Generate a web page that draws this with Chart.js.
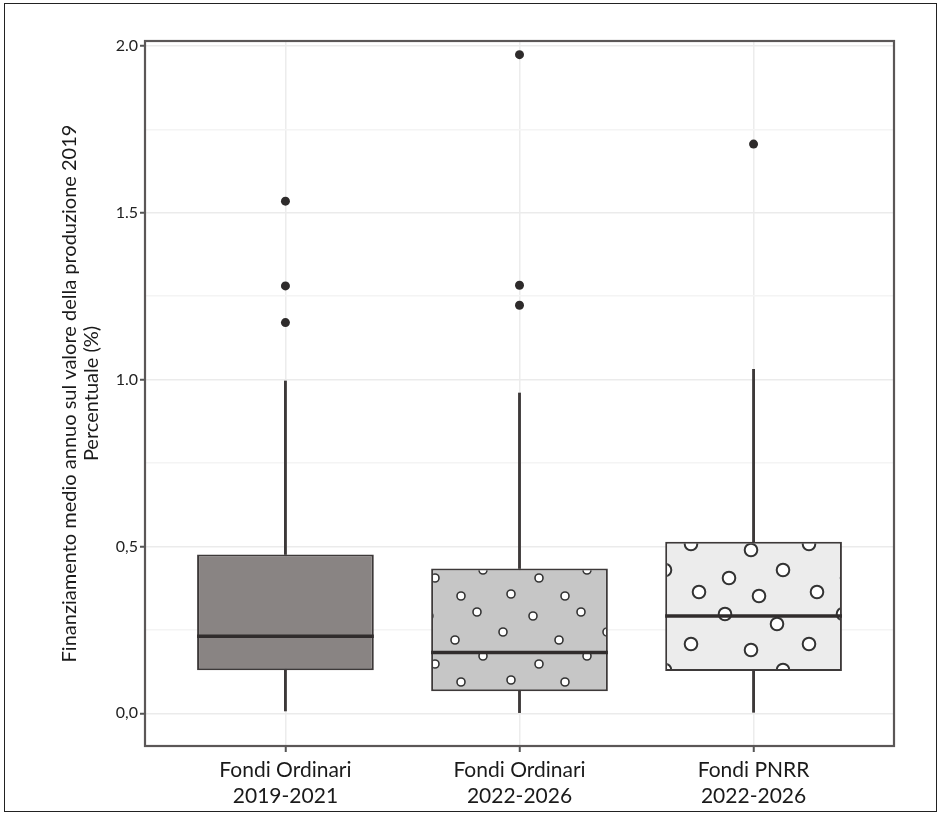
<!DOCTYPE html>
<html>
<head>
<meta charset="utf-8">
<script src="https://cdn.jsdelivr.net/npm/chart.js@4"></script>
<style>
  body { margin: 0; background: #fff; }
  #frame { position: absolute; left: 4px; top: 3px; width: 931px; height: 807px; border: 1px solid #222; }
  canvas { display: block; }
</style>
</head>
<body>
<div id="frame"><canvas id="chart" width="931" height="807"></canvas></div>
<script>
const categories = [['Fondi Ordinari', '2019-2021'], ['Fondi Ordinari', '2022-2026'], ['Fondi PNRR', '2022-2026']]
const whiskerLow = [0.007, 0.002, 0.003]
const q1 = [0.129, 0.066, 0.127]
const medians = [0.231, 0.182, 0.292]
const q3 = [0.476, 0.434, 0.514]
const whiskerHigh = [0.996, 0.960, 1.031]
const outliers = [[1.535, 1.281, 1.171], [1.974, 1.283, 1.223], [1.706]]
const yTickLabels = { 0: '0,0', 0.5: '0,5', 1: '1.0', 1.5: '1.5', 2: '2.0' }
const yGridValues = [0, 0.25, 0.5, 0.75, 1, 1.25, 1.5, 1.75, 2]

const BOX_WIDTH = 0.755
const FONT = 'Lato, "Open Sans", sans-serif'

// tiled dot fills for the second and third box
function dotPattern (bg, w, h, dots, r, lw) {
  const c = document.createElement('canvas')
  c.width = w
  c.height = h
  const g = c.getContext('2d')
  g.fillStyle = bg
  g.fillRect(0, 0, w, h)
  g.lineWidth = lw
  g.strokeStyle = '#333'
  g.fillStyle = '#fff'
  dots.forEach(([x, y]) => {
    g.beginPath()
    g.arc(x, y, r, 0, Math.PI * 2)
    g.fill()
    g.stroke()
  })
  return g.createPattern(c, 'repeat')
}

const ctx = document.getElementById('chart').getContext('2d')
const fills = [
  '#898483',
  dotPattern('#c6c6c6', 104, 86, [[8, 10], [56, 6], [34, 34], [82, 26], [14, 58], [62, 50], [90, 74], [40, 76]], 4, 1.6),
  dotPattern('#ececec', 118, 100, [[12, 10], [64, 20], [38, 46], [96, 40], [16, 74], [70, 66], [104, 88], [46, 92]], 6.3, 2)
]

const panelBorder = {
  id: 'panelBorder',
  afterDatasetsDraw (chart) {
    const { left, top, width, height } = chart.chartArea
    const c = chart.ctx
    c.save()
    c.strokeStyle = '#5b5757'
    c.lineWidth = 2.2
    c.strokeRect(left, top, width, height)
    c.restore()
  }
}

const boxData = categories.map((_, i) => ({ x: i + 1, y: [q1[i], q3[i]] }))
const lowData = categories.map((_, i) => ({ x: i + 1, y: [whiskerLow[i], q1[i]] }))
const highData = categories.map((_, i) => ({ x: i + 1, y: [q3[i], whiskerHigh[i]] }))
const outlierData = outliers.flatMap((vals, i) => vals.map(v => ({ x: i + 1, y: v })))

const medianSets = medians.map((m, i) => ({
  type: 'line',
  data: [{ x: i + 1 - BOX_WIDTH / 2, y: m }, { x: i + 1 + BOX_WIDTH / 2, y: m }],
  borderColor: '#302c2c',
  borderWidth: 3.5,
  pointRadius: 0,
  order: 1
}))

new Chart(ctx, {
  type: 'bar',
  data: {
    datasets: [
      {
        type: 'scatter',
        data: outlierData,
        backgroundColor: '#2e2b2b',
        borderWidth: 0,
        pointRadius: 4.5,
        order: 0
      },
      ...medianSets,
      {
        data: boxData,
        backgroundColor: fills,
        borderColor: '#3d3939',
        borderWidth: 2,
        borderSkipped: false,
        grouped: false,
        categoryPercentage: 1,
        barPercentage: BOX_WIDTH,
        order: 2
      },
      {
        data: lowData,
        backgroundColor: '#3d3939',
        borderWidth: 0,
        grouped: false,
        barThickness: 2.2,
        order: 3
      },
      {
        data: highData,
        backgroundColor: '#3d3939',
        borderWidth: 0,
        grouped: false,
        barThickness: 2.2,
        order: 3
      }
    ]
  },
  options: {
    responsive: false,
    animation: false,
    layout: { padding: { top: 37, right: 42, left: 0, bottom: 0 } },
    plugins: { legend: { display: false }, tooltip: { enabled: false } },
    scales: {
      x: {
        type: 'linear',
        min: 0.4,
        max: 3.6,
        offset: false,
        afterBuildTicks: (scale) => { scale.ticks = categories.map((_, i) => ({ value: i + 1 })) },
        afterFit: (scale) => { scale.height = 65 },
        ticks: {
          callback: (v) => categories[v - 1],
          font: { family: FONT, size: 21 },
          color: '#1a1a1a',
          padding: 6,
          maxRotation: 0
        },
        grid: { offset: false, color: '#ececec', lineWidth: 1.5, tickLength: 6, tickColor: '#555', tickWidth: 2 },
        border: { display: false }
      },
      y: {
        min: -0.098,
        max: 2.015,
        afterBuildTicks: (scale) => { scale.ticks = yGridValues.map(v => ({ value: v })) },
        afterFit: (scale) => { scale.width = 140 },
        ticks: {
          callback: (v) => yTickLabels[v] || '',
          font: { family: FONT, size: 16 },
          color: '#222',
          padding: 2
        },
        grid: {
          color: (c) => (c.tick && yTickLabels[c.tick.value] ? '#ebebeb' : '#f4f4f4'),
          lineWidth: 1.5,
          tickLength: 5,
          tickColor: (c) => (c.tick && yTickLabels[c.tick.value] ? '#555' : 'rgba(0,0,0,0)'),
          tickWidth: 2
        },
        border: { display: false },
        title: {
          display: true,
          text: ['Finanziamento medio annuo sul valore della produzione 2019', 'Percentuale (%)'],
          font: { family: FONT, size: 20, lineHeight: 1.1 },
          color: '#1a1a1a',
          padding: { top: 54, bottom: 0 }
        }
      }
    }
  },
  plugins: [panelBorder]
})
</script>
</body>
</html>
